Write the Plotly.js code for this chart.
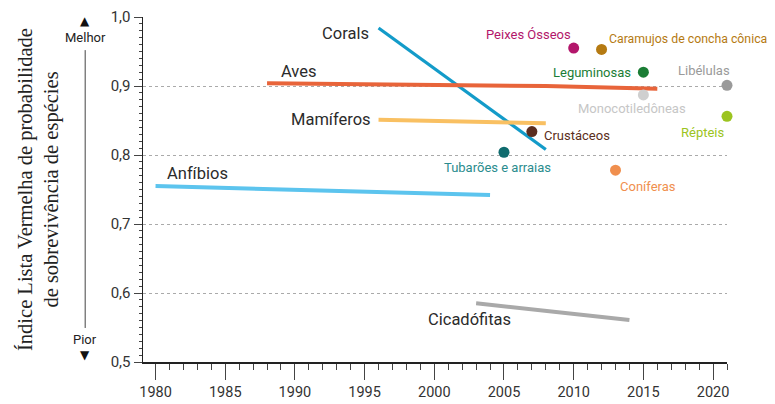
<!DOCTYPE html>
<html>
<head>
<meta charset="utf-8">
<script src="https://cdn.plot.ly/plotly-3.0.1.min.js"></script>
<style>html,body{margin:0;padding:0;background:#fff;}#chart{width:775px;height:404px;}</style>
</head>
<body>
<div id="chart"></div>
<script>
// ---- Data ----
const coralsYears = [1996, 2008];
const coralsValues = [0.984, 0.808];
const avesYears = [1988, 2000, 2008, 2016];
const avesValues = [0.904, 0.902, 0.900, 0.896];
const mamiferosYears = [1996, 2008];
const mamiferosValues = [0.851, 0.846];
const anfibiosYears = [1980, 2004];
const anfibiosValues = [0.755, 0.742];
const cicadofitasYears = [2003, 2014];
const cicadofitasValues = [0.585, 0.561];

const pointNames = ["Peixes Ósseos", "Caramujos de concha cônica", "Leguminosas", "Libélulas",
  "Monocotiledôneas", "Répteis", "Crustáceos", "Tubarões e arraias", "Coníferas"];
const pointYears = [2010, 2012, 2015, 2021, 2015, 2021, 2007, 2005, 2013];
const pointValues = [0.955, 0.953, 0.920, 0.901, 0.887, 0.856, 0.834, 0.804, 0.778];

const yTickVals = [0.5, 0.6, 0.7, 0.8, 0.9, 1.0];
const xTickVals = [1980, 1985, 1990, 1995, 2000, 2005, 2010, 2015, 2020];

// ---- Styles ----
const FONT = "Roboto, 'Liberation Sans', sans-serif";
const pointColors = ["#b3166b", "#b57a12", "#1b7d35", "#9a9a9a", "#cfcfcf", "#9cc420", "#5b2e20", "#0f6b6e", "#f08f4e"];
const pointTextColors = ["#b3166b", "#b57a12", "#1b7d35", "#9a9a9a", "#c6c6c6", "#9cc420", "#5b2e20", "#2a8c8e", "#f08f4e"];
// label placement: [xanchor, xshift, yshift, size]
const pointLabelPos = [
  ["right", -1, 14, 13], ["left", 5, 10, 12.3], ["right", -10, 0, 13], ["right", 5, 15, 13],
  ["center", -11, -14, 13], ["right", 0, -16, 13], ["left", 10, -4, 13], ["center", -6, -15, 13], ["left", 2, -16, 13]
];

const lineSeries = [
  {name: "Corals", x: coralsYears, y: coralsValues, color: "#139bc9", width: 3.2, lab: ["right", -8, -5]},
  {name: "Aves", x: avesYears, y: avesValues, color: "#e8643a", width: 4, lab: ["left", 12, 12]},
  {name: "Mamíferos", x: mamiferosYears, y: mamiferosValues, color: "#f9c062", width: 4, lab: ["right", -6, 0]},
  {name: "Anfíbios", x: anfibiosYears, y: anfibiosValues, color: "#5cc4ee", width: 4, lab: ["left", 9, 13]},
  {name: "Cicadófitas", x: cicadofitasYears, y: cicadofitasValues, color: "#a9a9a9", width: 4, lab: ["left", -50, -16]}
];

const traces = lineSeries.map(s => ({
  type: "scatter", mode: "lines", name: s.name, x: s.x, y: s.y,
  line: {color: s.color, width: s.width}, hoverinfo: "skip", cliponaxis: false
}));
traces.push({
  type: "scatter", mode: "markers", name: "pontos", x: pointYears, y: pointValues,
  marker: {color: pointColors, size: 11}, cliponaxis: false, hoverinfo: "skip"
});

const annotations = [];
lineSeries.forEach(s => {
  annotations.push({
    x: s.x[0], y: s.y[0], xref: "x", yref: "y", text: s.name, showarrow: false,
    xanchor: s.lab[0], yanchor: "middle", xshift: s.lab[1], yshift: s.lab[2],
    font: {family: FONT, size: 16.5, color: "#2b2b2b"}
  });
});
pointNames.forEach((n, i) => {
  annotations.push({
    x: pointYears[i], y: pointValues[i], xref: "x", yref: "y", text: n, showarrow: false,
    xanchor: pointLabelPos[i][0], yanchor: "middle", xshift: pointLabelPos[i][1], yshift: pointLabelPos[i][2],
    font: {family: FONT, size: pointLabelPos[i][3], color: pointTextColors[i]}
  });
});
// better / worse indicator
const arrowX = -0.099;
annotations.push(
  {xref: "paper", yref: "paper", x: arrowX, y: 0.988, text: "▲", showarrow: false, xanchor: "center", yanchor: "middle", font: {family: "DejaVu Sans", size: 12, color: "#111"}},
  {xref: "paper", yref: "paper", x: arrowX, y: 0.94, text: "Melhor", showarrow: false, xanchor: "center", yanchor: "middle", font: {family: FONT, size: 13, color: "#222"}},
  {xref: "paper", yref: "paper", x: arrowX, y: 0.064, text: "Pior", showarrow: false, xanchor: "center", yanchor: "middle", font: {family: FONT, size: 13, color: "#222"}},
  {xref: "paper", yref: "paper", x: arrowX, y: 0.020, text: "▼", showarrow: false, xanchor: "center", yanchor: "middle", font: {family: "DejaVu Sans", size: 12, color: "#111"}}
);

const layout = {
  width: 775, height: 404,
  margin: {l: 143, r: 48, t: 17, b: 42},
  paper_bgcolor: "#fff", plot_bgcolor: "#fff",
  showlegend: false,
  separators: ",.",
  font: {family: FONT, color: "#333"},
  xaxis: {
    range: [1979.1, 2021], showline: true, linecolor: "#222", linewidth: 1.5,
    tickmode: "array", tickvals: xTickVals, ticks: "outside", ticklen: 16, tickwidth: 1, tickcolor: "#444",
    minor: {dtick: 1, tick0: 1980, ticks: "outside", ticklen: 6, tickcolor: "#444", showgrid: false},
    showgrid: false, zeroline: false,
    tickfont: {family: FONT, size: 14.5, color: "#333"}
  },
  yaxis: {
    range: [0.5, 1.0], showline: true, linecolor: "#222", linewidth: 1.5,
    tickmode: "array", tickvals: yTickVals, tickformat: ".1f", ticks: "outside", ticklen: 8, tickwidth: 1, tickcolor: "#444",
    minor: {dtick: 0.01, tick0: 0.5, ticks: "outside", ticklen: 3, tickcolor: "#444", showgrid: false},
    showgrid: true, gridcolor: "#aaa", griddash: "dot", gridwidth: 1, zeroline: false,
    tickfont: {family: FONT, size: 15, color: "#333"},
    title: {text: "Índice Lista Vermelha de probabilidade<br>de sobrevivência de espécies", standoff: 46,
      font: {family: "'Liberation Serif', 'DejaVu Serif', serif", size: 20.5, color: "#222"}}
  },
  shapes: [
    {type: "line", xref: "paper", yref: "paper", x0: arrowX, x1: arrowX, y0: 0.0986, y1: 0.904, line: {color: "#444", width: 1}}
  ],
  annotations: annotations
};

Plotly.newPlot("chart", traces, layout, {displayModeBar: false, staticPlot: true});
</script>
</body>
</html>
